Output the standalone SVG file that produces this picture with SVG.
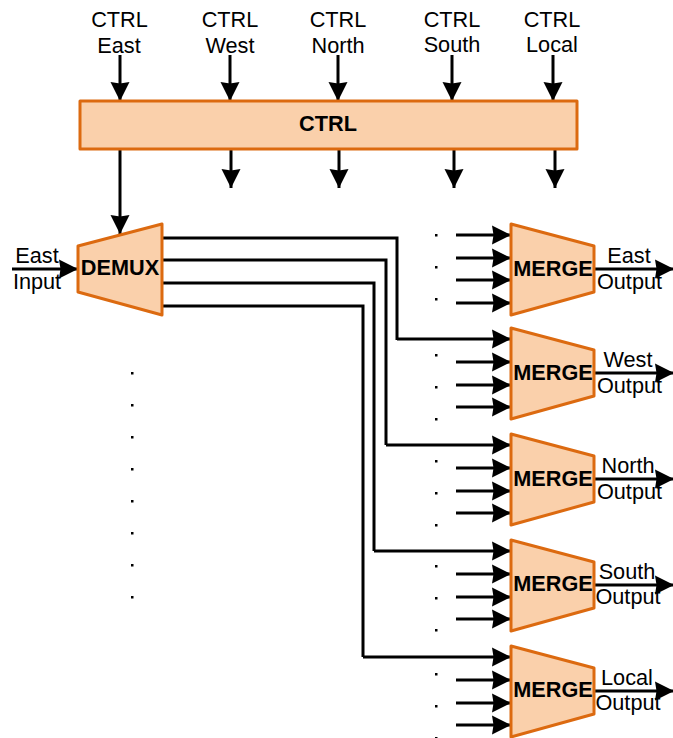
<svg xmlns="http://www.w3.org/2000/svg" width="673" height="738" viewBox="0 0 673 738">
<style>
text{font-family:"Liberation Sans",Arial,sans-serif;font-size:21.7px;fill:#000;text-anchor:middle}
.b{font-weight:bold}
.shape{fill:#fad0ab;stroke:#dc6a10;stroke-width:3;stroke-linejoin:round}
.w{fill:none;stroke:#000;stroke-width:3}
.a{fill:none;stroke:#000;stroke-width:3;marker-end:url(#h)}
.d{fill:#000}
</style>
<defs>
<marker id="h" markerUnits="userSpaceOnUse" markerWidth="20" markerHeight="20" refX="19" refY="10" orient="auto"><path d="M0 0.5L19 10L0 19.5L1.5 10Z" fill="#000"/></marker>
<g id="dots"><rect x="0" y="0" width="2.5" height="2.5" class="d"/><rect x="0" y="32" width="2.5" height="2.5" class="d"/><rect x="0" y="64" width="2.5" height="2.5" class="d"/></g>
</defs>
<g id="connectors">
<path class="a" d="M120 55V101"/><path class="a" d="M230 55V101"/><path class="a" d="M338 55V101"/><path class="a" d="M452 55V101"/><path class="a" d="M553 55V101"/>
<path class="a" d="M120 146V234"/>
<path class="a" d="M231 148V188"/><path class="a" d="M339 148V188"/><path class="a" d="M454 148V188"/><path class="a" d="M555 148V188"/>
<path class="a" d="M12 269H78"/>
<path class="w" d="M162 238H397V340"/><path class="w" d="M162 260H386V445"/><path class="w" d="M162 283H374V551"/><path class="w" d="M162 306H363V657"/>
<path class="a" d="M456 235H511"/><path class="a" d="M456 258H511"/><path class="a" d="M456 280H511"/><path class="a" d="M456 303H511"/>
<path class="a" d="M397 339H511"/><path class="a" d="M456 362H511"/><path class="a" d="M456 385H511"/><path class="a" d="M456 407H511"/>
<path class="a" d="M386 445H511"/><path class="a" d="M456 468H511"/><path class="a" d="M456 491H511"/><path class="a" d="M456 513H511"/>
<path class="a" d="M374 551H511"/><path class="a" d="M456 574H511"/><path class="a" d="M456 597H511"/><path class="a" d="M456 619H511"/>
<path class="a" d="M363 657H511"/><path class="a" d="M456 680H511"/><path class="a" d="M456 703H511"/><path class="a" d="M456 725H511"/>
<path class="a" d="M594 269H674"/><path class="a" d="M594 373H674"/><path class="a" d="M594 479H674"/><path class="a" d="M594 585H674"/><path class="a" d="M594 691H674"/>
</g>
<g id="ctrl"><rect class="shape" x="80" y="101" width="497" height="48"/><text class="b" x="328" y="131">CTRL</text></g>
<g id="demux"><path class="shape" d="M78 246L162 224V315L78 292Z"/><text class="b" x="120" y="275">DEMUX</text></g>
<g id="merge-east"><path class="shape" d="M511 224L594 246V292L511 315Z"/><text class="b" x="553" y="276">MERGE</text></g>
<g id="merge-west"><path class="shape" d="M511 328L594 350V396L511 419Z"/><text class="b" x="553" y="380">MERGE</text></g>
<g id="merge-north"><path class="shape" d="M511 434L594 456V502L511 525Z"/><text class="b" x="553" y="486">MERGE</text></g>
<g id="merge-south"><path class="shape" d="M511 540L594 562V608L511 631Z"/><text class="b" x="553" y="591">MERGE</text></g>
<g id="merge-local"><path class="shape" d="M511 646L594 668V714L511 737Z"/><text class="b" x="553" y="697">MERGE</text></g>
<g id="labels">
<text x="119.500" y="27">CTRL</text><text x="119" y="53">East</text>
<text x="230" y="27">CTRL</text><text x="230" y="53">West</text>
<text x="338" y="27">CTRL</text><text x="338" y="53">North</text>
<text x="452" y="27">CTRL</text><text x="452" y="52">South</text>
<text x="552" y="27">CTRL</text><text x="552" y="52">Local</text>
<text x="37" y="263">East</text><text x="37" y="289">Input</text>
<text x="629" y="263">East</text><text x="629.500" y="289">Output</text>
<text x="628" y="367">West</text><text x="629.500" y="393">Output</text>
<text x="628" y="473">North</text><text x="629.500" y="499">Output</text>
<text x="627" y="579">South</text><text x="628" y="604">Output</text>
<text x="627" y="685">Local</text><text x="628" y="710">Output</text>
</g>
<g id="ellipsis">
<use href="#dots" x="435" y="234"/><use href="#dots" x="435" y="354"/>
<use href="#dots" x="435" y="460"/><use href="#dots" x="435" y="565"/><use href="#dots" x="435" y="673"/>
<use href="#dots" x="131" y="372"/><use href="#dots" x="131" y="468"/>
<rect class="d" x="131" y="564" width="2.500" height="2.500"/><rect class="d" x="131" y="596" width="2.500" height="2.500"/>
</g>
</svg>
